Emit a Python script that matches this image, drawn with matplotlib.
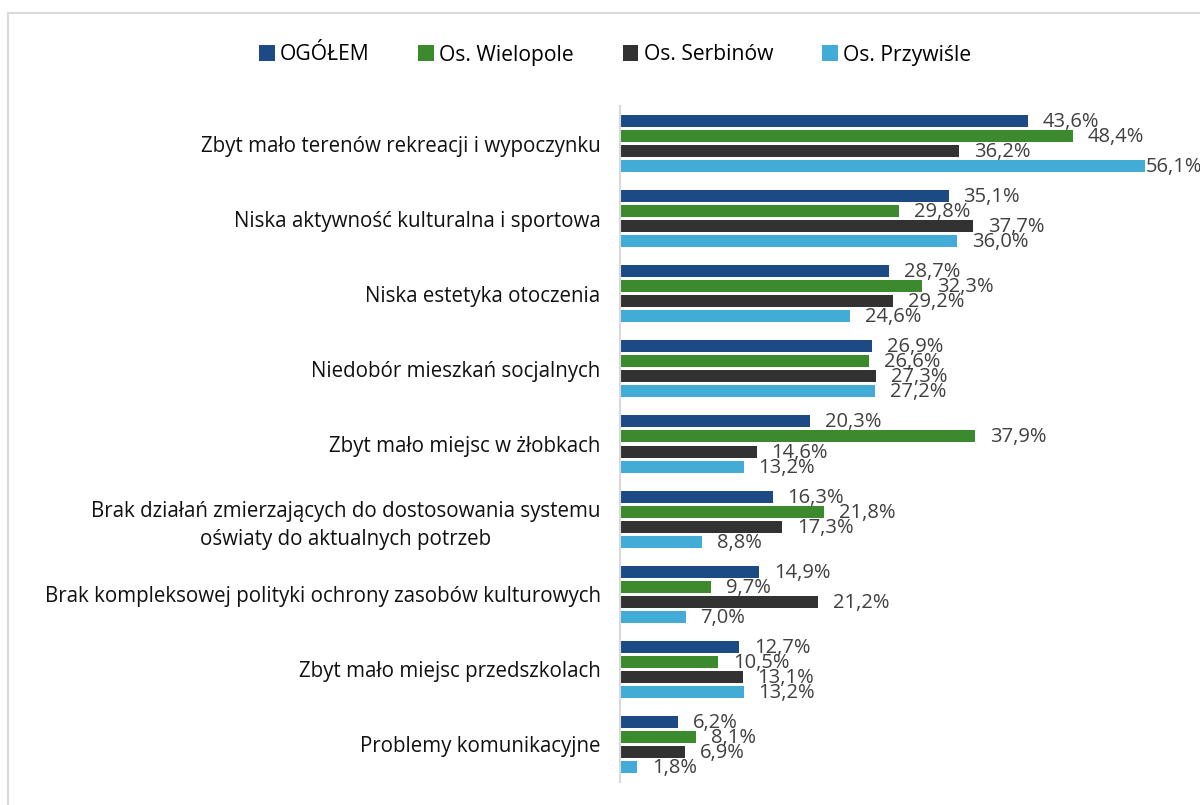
import numpy as np
import matplotlib.pyplot as plt
from matplotlib.patches import Rectangle
from matplotlib import transforms

# Categories (top to bottom) and series values in %
categories = [
    'Zbyt mało terenów rekreacji i wypoczynku',
    'Niska aktywność kulturalna i sportowa',
    'Niska estetyka otoczenia',
    'Niedobór mieszkań socjalnych',
    'Zbyt mało miejsc w żłobkach',
    'Brak działań zmierzających do dostosowania systemu\noświaty do aktualnych potrzeb',
    'Brak kompleksowej polityki ochrony zasobów kulturowych',
    'Zbyt mało miejsc przedszkolach',
    'Problemy komunikacyjne',
]
series_names = ['OGÓŁEM', 'Os. Wielopole', 'Os. Serbinów', 'Os. Przywiśle']
ogolem = [43.6, 35.1, 28.7, 26.9, 20.3, 16.3, 14.9, 12.7, 6.2]
wielopole = [48.4, 29.8, 32.3, 26.6, 37.9, 21.8, 9.7, 10.5, 8.1]
serbinow = [36.2, 37.7, 29.2, 27.3, 14.6, 17.3, 21.2, 13.1, 6.9]
przywisle = [56.1, 36.0, 24.6, 27.2, 13.2, 8.8, 7.0, 13.2, 1.8]
colors = ['#1c4a85', '#3c8a2e', '#333233', '#42acd6']

plt.rcParams['font.family'] = ['Open Sans', 'DejaVu Sans']

fig = plt.figure(figsize=(12, 8.05), dpi=100)
W, H = 1200, 805
ax = fig.add_axes([620 / W, 1 - 782 / H, 580 / W, (782 - 106) / H])

n = len(categories)
step = 0.2
bar_h = 0.16
all_series = [ogolem, wielopole, serbinow, przywisle]
xmax = 580 / 9.36
ax.set_xlim(0, xmax)
ax.set_ylim(n - 0.5, -0.5)

# value labels sit just right of each bar (pulled in where they'd leave the figure)
offset = transforms.offset_copy(ax.transData, fig=fig, x=15, y=-1, units='dots')
for k, (vals, name, col) in enumerate(zip(all_series, series_names, colors)):
    ys = np.arange(n) - 0.3 + k * step
    ax.barh(ys, vals, height=bar_h, color=col, label=name)
    for y, v in zip(ys, vals):
        x = min(v, xmax - 7.4)
        ax.text(x, y, f'{v:.1f}%'.replace('.', ','), transform=offset,
                ha='left', va='center', fontsize=14.5, color='#404040')

ax.set_yticks(np.arange(n))
ax.set_yticklabels(categories, fontsize=14.8, color='#111111', multialignment='center',
                   linespacing=1.45)
ax.tick_params(axis='y', length=0, pad=14)
ax.set_xticks([])
for s in ['top', 'right', 'bottom']:
    ax.spines[s].set_visible(False)
ax.spines['left'].set_color('#d9d9d9')
ax.spines['left'].set_linewidth(1.5)

fig.legend(loc='center', bbox_to_anchor=(615 / W, 1 - 55 / H), ncol=4,
           frameon=False, fontsize=15.2, handlelength=0.75, handleheight=0.75,
           handletextpad=0.25, columnspacing=2.3)

# light grey chart-area border, open at right and bottom like the source crop
fig.patches.append(Rectangle((8 / W, -0.05), 1.1, 1 - 13 / H + 0.05,
                             transform=fig.transFigure, fill=False,
                             edgecolor='#d9d9d9', linewidth=1.5))

fig.savefig('out.png', dpi=100)
